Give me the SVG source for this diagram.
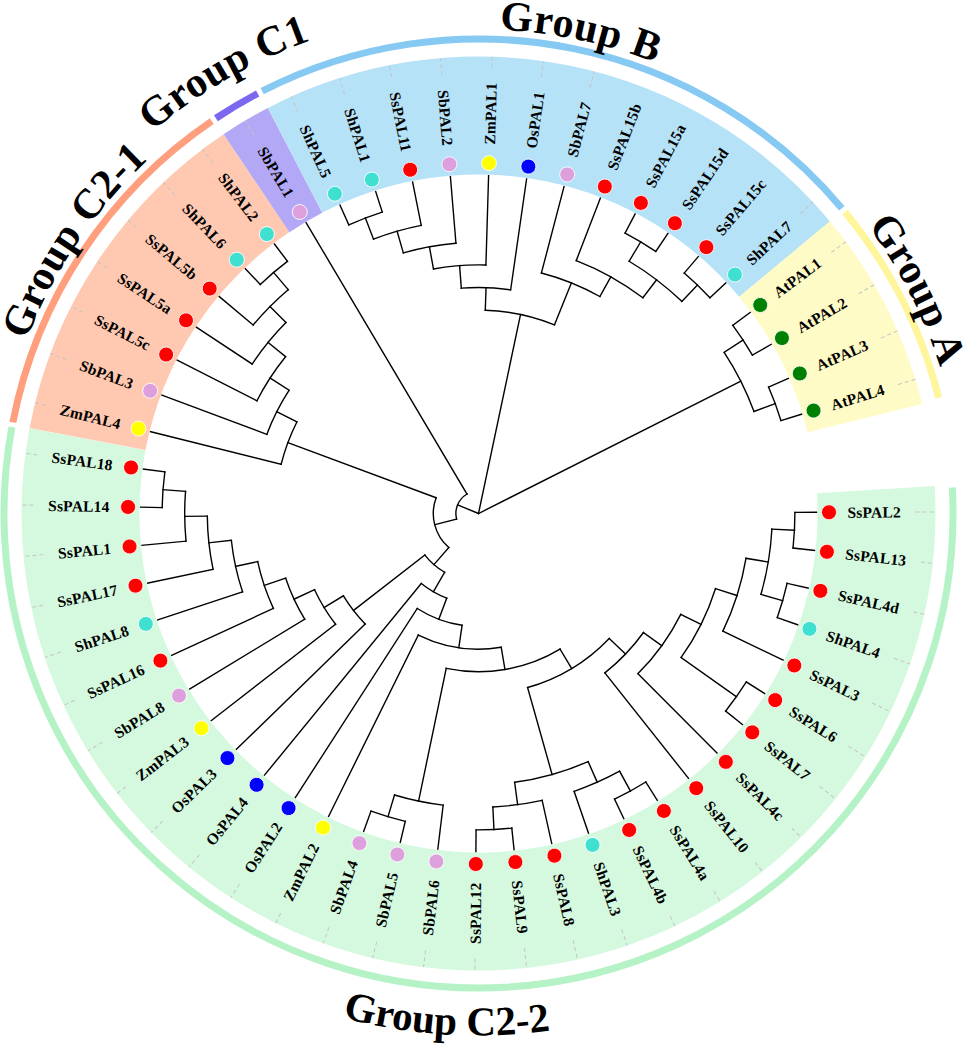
<svg xmlns="http://www.w3.org/2000/svg" width="969" height="1044" viewBox="0 0 969 1044">
<style>
.tree{stroke:#000;stroke-width:1.4;fill:none;stroke-linecap:square}
.lbl{font-family:"Liberation Serif","Times New Roman",serif;font-weight:bold;font-size:15.5px;letter-spacing:0.2px;fill:#000;dominant-baseline:central}
.ld{stroke:#c4c4c4;stroke-width:1;stroke-dasharray:4 3;fill:none}
.dot{stroke:#fff;stroke-width:0.8}
.grp{font-family:"Liberation Serif","Times New Roman",serif;font-weight:bold;font-size:42px;letter-spacing:0.5px;fill:#000}
.band{fill:none;stroke-width:118}
.oarc{fill:none;stroke-width:7}
.red{fill:#ff0000}.tq{fill:#40e0d0}.pl{fill:#dda0dd}.ye{fill:#ffff00}.bl{fill:#0000ff}.gr{fill:#008000}
</style>
<defs>
<path id="cw484" d="M -5.5 513.5 A 484 484 0 1 1 962.5 513.5 A 484 484 0 1 1 -5.5 513.5"/>
<path id="cw502" d="M -23.5 513.5 A 502 502 0 1 1 980.5 513.5 A 502 502 0 1 1 -23.5 513.5"/>
<path id="ccw522" d="M -43.5 513.5 A 522 522 0 0 0 1000.5 513.5"/>
</defs>
<rect width="969" height="1044" fill="#fff"/>
<g id="bands" transform="translate(478.5 513.5)">
<circle class="band" r="398" pathLength="360" stroke="#d5f9df" stroke-dasharray="194.22 400" transform="rotate(-3.44)"/>
<circle class="band" r="398" pathLength="360" stroke="#ffc8b0" stroke-dasharray="45.32 400" transform="rotate(190.78)"/>
<circle class="band" r="398" pathLength="360" stroke="#b2a8f6" stroke-dasharray="6.47 400" transform="rotate(236.10)"/>
<circle class="band" r="398" pathLength="360" stroke="#b6e2f8" stroke-dasharray="77.69 400" transform="rotate(242.57)"/>
<circle class="band" r="398" pathLength="360" stroke="#fffbc6" stroke-dasharray="25.90 400" transform="rotate(320.26)"/>
</g>
<g id="group-arcs" transform="translate(478.5 513.5)">
<circle class="oarc" r="474.5" pathLength="360" stroke="#b5f3c6" stroke-dasharray="193.62 400" transform="rotate(-3.14)"/>
<circle class="oarc" r="474.5" pathLength="360" stroke="#ff9f7e" stroke-dasharray="44.72 400" transform="rotate(191.08)"/>
<circle class="oarc" r="474.5" pathLength="360" stroke="#7b68ee" stroke-dasharray="5.87 400" transform="rotate(236.40)"/>
<circle class="oarc" r="474.5" pathLength="360" stroke="#86c9f2" stroke-dasharray="77.09 400" transform="rotate(242.87)"/>
<circle class="oarc" r="474.5" pathLength="360" stroke="#fff59b" stroke-dasharray="25.30 400" transform="rotate(320.56)"/>
</g>
<g id="connectors" class="tree" transform="translate(478.5 513.5)">
<line x1="316.4" x2="338" transform="rotate(-0.2)"/>
<line x1="316.4" x2="338" transform="rotate(6.27)"/>
<line x1="316.4" x2="338" transform="rotate(12.75)"/>
<line x1="316.4" x2="338" transform="rotate(19.22)"/>
<line x1="271.2" x2="338" transform="rotate(25.70)"/>
<line x1="316.4" x2="338" transform="rotate(32.17)"/>
<line x1="316.4" x2="338" transform="rotate(38.64)"/>
<line x1="226.0" x2="338" transform="rotate(45.12)"/>
<line x1="203.4" x2="338" transform="rotate(51.59)"/>
<line x1="316.4" x2="338" transform="rotate(58.07)"/>
<line x1="316.4" x2="338" transform="rotate(64.54)"/>
<line x1="293.8" x2="338" transform="rotate(71.01)"/>
<line x1="293.8" x2="338" transform="rotate(77.49)"/>
<line x1="316.4" x2="338" transform="rotate(83.96)"/>
<line x1="316.4" x2="338" transform="rotate(90.44)"/>
<line x1="293.8" x2="338" transform="rotate(96.91)"/>
<line x1="316.4" x2="338" transform="rotate(103.38)"/>
<line x1="316.4" x2="338" transform="rotate(109.86)"/>
<line x1="135.6" x2="338" transform="rotate(116.33)"/>
<line x1="113.0" x2="338" transform="rotate(122.81)"/>
<line x1="90.4" x2="338" transform="rotate(129.28)"/>
<line x1="158.2" x2="338" transform="rotate(135.75)"/>
<line x1="180.8" x2="338" transform="rotate(142.23)"/>
<line x1="203.4" x2="338" transform="rotate(148.70)"/>
<line x1="226.0" x2="338" transform="rotate(155.18)"/>
<line x1="248.6" x2="338" transform="rotate(161.65)"/>
<line x1="271.2" x2="338" transform="rotate(168.12)"/>
<line x1="293.8" x2="338" transform="rotate(174.60)"/>
<line x1="316.4" x2="338" transform="rotate(181.07)"/>
<line x1="316.4" x2="338" transform="rotate(187.55)"/>
<line x1="203.4" x2="338" transform="rotate(194.02)"/>
<line x1="226.0" x2="338" transform="rotate(200.49)"/>
<line x1="248.6" x2="338" transform="rotate(206.97)"/>
<line x1="271.2" x2="338" transform="rotate(213.44)"/>
<line x1="293.8" x2="338" transform="rotate(219.92)"/>
<line x1="316.4" x2="338" transform="rotate(226.39)"/>
<line x1="316.4" x2="338" transform="rotate(232.86)"/>
<line x1="22.6" x2="338" transform="rotate(239.34)"/>
<line x1="316.4" x2="338" transform="rotate(245.81)"/>
<line x1="316.4" x2="338" transform="rotate(252.29)"/>
<line x1="293.8" x2="338" transform="rotate(258.76)"/>
<line x1="271.2" x2="338" transform="rotate(265.23)"/>
<line x1="248.6" x2="338" transform="rotate(271.71)"/>
<line x1="226.0" x2="338" transform="rotate(278.18)"/>
<line x1="248.6" x2="338" transform="rotate(284.66)"/>
<line x1="271.2" x2="338" transform="rotate(291.13)"/>
<line x1="316.4" x2="338" transform="rotate(297.60)"/>
<line x1="316.4" x2="338" transform="rotate(304.08)"/>
<line x1="316.4" x2="338" transform="rotate(310.55)"/>
<line x1="316.4" x2="338" transform="rotate(317.02)"/>
<line x1="316.4" x2="338" transform="rotate(323.50)"/>
<line x1="316.4" x2="338" transform="rotate(329.97)"/>
<line x1="316.4" x2="338" transform="rotate(336.45)"/>
<line x1="316.4" x2="338" transform="rotate(342.92)"/>
<line x1="293.8" x2="316.4" transform="rotate(326.74)"/>
<line x1="293.8" x2="316.4" transform="rotate(339.69)"/>
<line x1="0" x2="293.8" transform="rotate(333.21)"/>
<line x1="293.8" x2="316.4" transform="rotate(249.05)"/>
<line x1="271.2" x2="293.8" transform="rotate(253.91)"/>
<line x1="248.6" x2="271.2" transform="rotate(259.57)"/>
<line x1="226.0" x2="248.6" transform="rotate(265.64)"/>
<line x1="203.4" x2="226.0" transform="rotate(271.91)"/>
<line x1="293.8" x2="316.4" transform="rotate(300.84)"/>
<line x1="293.8" x2="316.4" transform="rotate(313.79)"/>
<line x1="271.2" x2="293.8" transform="rotate(307.31)"/>
<line x1="248.6" x2="271.2" transform="rotate(299.22)"/>
<line x1="203.4" x2="248.6" transform="rotate(291.94)"/>
<line x1="0" x2="203.4" transform="rotate(281.92)"/>
<line x1="293.8" x2="316.4" transform="rotate(229.63)"/>
<line x1="271.2" x2="293.8" transform="rotate(224.77)"/>
<line x1="248.6" x2="271.2" transform="rotate(219.11)"/>
<line x1="226.0" x2="248.6" transform="rotate(213.04)"/>
<line x1="203.4" x2="226.0" transform="rotate(206.77)"/>
<line x1="45.2" x2="203.4" transform="rotate(200.39)"/>
<line x1="293.8" x2="316.4" transform="rotate(184.31)"/>
<line x1="271.2" x2="293.8" transform="rotate(179.45)"/>
<line x1="248.6" x2="271.2" transform="rotate(173.79)"/>
<line x1="226.0" x2="248.6" transform="rotate(167.72)"/>
<line x1="203.4" x2="226.0" transform="rotate(161.45)"/>
<line x1="180.8" x2="203.4" transform="rotate(155.08)"/>
<line x1="158.2" x2="180.8" transform="rotate(148.65)"/>
<line x1="67.8" x2="158.2" transform="rotate(142.20)"/>
<line x1="293.8" x2="316.4" transform="rotate(3.04)"/>
<line x1="293.8" x2="316.4" transform="rotate(15.98)"/>
<line x1="271.2" x2="293.8" transform="rotate(9.51)"/>
<line x1="248.6" x2="271.2" transform="rotate(17.60)"/>
<line x1="248.6" x2="316.4" transform="rotate(35.40)"/>
<line x1="226.0" x2="248.6" transform="rotate(26.50)"/>
<line x1="203.4" x2="226.0" transform="rotate(35.81)"/>
<line x1="180.8" x2="203.4" transform="rotate(43.70)"/>
<line x1="293.8" x2="316.4" transform="rotate(61.30)"/>
<line x1="271.2" x2="293.8" transform="rotate(66.16)"/>
<line x1="293.8" x2="316.4" transform="rotate(87.20)"/>
<line x1="271.2" x2="293.8" transform="rotate(82.34)"/>
<line x1="180.8" x2="271.2" transform="rotate(74.25)"/>
<line x1="158.2" x2="180.8" transform="rotate(58.98)"/>
<line x1="293.8" x2="316.4" transform="rotate(106.62)"/>
<line x1="158.2" x2="293.8" transform="rotate(101.77)"/>
<line x1="135.6" x2="158.2" transform="rotate(80.37)"/>
<line x1="113.0" x2="135.6" transform="rotate(98.35)"/>
<line x1="90.4" x2="113.0" transform="rotate(110.58)"/>
<line x1="67.8" x2="90.4" transform="rotate(119.93)"/>
<line x1="45.2" x2="67.8" transform="rotate(131.07)"/>
<line x1="22.6" x2="45.2" transform="rotate(165.73)"/>
<line x1="0" x2="22.6" transform="rotate(202.53)"/>
<circle r="316.4" pathLength="360" stroke-dasharray="6.47 400" transform="rotate(323.50)"/>
<circle r="316.4" pathLength="360" stroke-dasharray="6.47 400" transform="rotate(336.45)"/>
<circle r="293.8" pathLength="360" stroke-dasharray="12.95 400" transform="rotate(326.74)"/>
<circle r="316.4" pathLength="360" stroke-dasharray="6.48 400" transform="rotate(245.81)"/>
<circle r="293.8" pathLength="360" stroke-dasharray="9.71 400" transform="rotate(249.05)"/>
<circle r="271.2" pathLength="360" stroke-dasharray="11.32 400" transform="rotate(253.91)"/>
<circle r="248.6" pathLength="360" stroke-dasharray="12.14 400" transform="rotate(259.57)"/>
<circle r="226.0" pathLength="360" stroke-dasharray="12.54 400" transform="rotate(265.64)"/>
<circle r="316.4" pathLength="360" stroke-dasharray="6.48 400" transform="rotate(297.60)"/>
<circle r="316.4" pathLength="360" stroke-dasharray="6.47 400" transform="rotate(310.55)"/>
<circle r="293.8" pathLength="360" stroke-dasharray="12.95 400" transform="rotate(300.84)"/>
<circle r="271.2" pathLength="360" stroke-dasharray="16.18 400" transform="rotate(291.13)"/>
<circle r="248.6" pathLength="360" stroke-dasharray="14.56 400" transform="rotate(284.66)"/>
<circle r="203.4" pathLength="360" stroke-dasharray="20.03 400" transform="rotate(271.91)"/>
<circle r="316.4" pathLength="360" stroke-dasharray="6.47 400" transform="rotate(226.39)"/>
<circle r="293.8" pathLength="360" stroke-dasharray="9.71 400" transform="rotate(219.92)"/>
<circle r="271.2" pathLength="360" stroke-dasharray="11.33 400" transform="rotate(213.44)"/>
<circle r="248.6" pathLength="360" stroke-dasharray="12.14 400" transform="rotate(206.97)"/>
<circle r="226.0" pathLength="360" stroke-dasharray="12.55 400" transform="rotate(200.49)"/>
<circle r="203.4" pathLength="360" stroke-dasharray="12.75 400" transform="rotate(194.02)"/>
<circle r="316.4" pathLength="360" stroke-dasharray="6.48 400" transform="rotate(181.07)"/>
<circle r="293.8" pathLength="360" stroke-dasharray="9.71 400" transform="rotate(174.60)"/>
<circle r="271.2" pathLength="360" stroke-dasharray="11.33 400" transform="rotate(168.12)"/>
<circle r="248.6" pathLength="360" stroke-dasharray="12.14 400" transform="rotate(161.65)"/>
<circle r="226.0" pathLength="360" stroke-dasharray="12.54 400" transform="rotate(155.18)"/>
<circle r="203.4" pathLength="360" stroke-dasharray="12.75 400" transform="rotate(148.70)"/>
<circle r="180.8" pathLength="360" stroke-dasharray="12.85 400" transform="rotate(142.23)"/>
<circle r="158.2" pathLength="360" stroke-dasharray="12.90 400" transform="rotate(135.75)"/>
<circle r="316.4" pathLength="360" stroke-dasharray="6.47 400" transform="rotate(-0.20)"/>
<circle r="316.4" pathLength="360" stroke-dasharray="6.47 400" transform="rotate(12.75)"/>
<circle r="293.8" pathLength="360" stroke-dasharray="12.94 400" transform="rotate(3.04)"/>
<circle r="271.2" pathLength="360" stroke-dasharray="16.19 400" transform="rotate(9.51)"/>
<circle r="316.4" pathLength="360" stroke-dasharray="6.47 400" transform="rotate(32.17)"/>
<circle r="248.6" pathLength="360" stroke-dasharray="17.80 400" transform="rotate(17.60)"/>
<circle r="226.0" pathLength="360" stroke-dasharray="18.62 400" transform="rotate(26.50)"/>
<circle r="203.4" pathLength="360" stroke-dasharray="15.78 400" transform="rotate(35.81)"/>
<circle r="316.4" pathLength="360" stroke-dasharray="6.47 400" transform="rotate(58.07)"/>
<circle r="293.8" pathLength="360" stroke-dasharray="9.71 400" transform="rotate(61.30)"/>
<circle r="316.4" pathLength="360" stroke-dasharray="6.48 400" transform="rotate(83.96)"/>
<circle r="293.8" pathLength="360" stroke-dasharray="9.71 400" transform="rotate(77.49)"/>
<circle r="271.2" pathLength="360" stroke-dasharray="16.18 400" transform="rotate(66.16)"/>
<circle r="180.8" pathLength="360" stroke-dasharray="30.55 400" transform="rotate(43.70)"/>
<circle r="316.4" pathLength="360" stroke-dasharray="6.48 400" transform="rotate(103.38)"/>
<circle r="293.8" pathLength="360" stroke-dasharray="9.71 400" transform="rotate(96.91)"/>
<circle r="158.2" pathLength="360" stroke-dasharray="42.79 400" transform="rotate(58.98)"/>
<circle r="135.6" pathLength="360" stroke-dasharray="35.96 400" transform="rotate(80.37)"/>
<circle r="113.0" pathLength="360" stroke-dasharray="24.46 400" transform="rotate(98.35)"/>
<circle r="90.4" pathLength="360" stroke-dasharray="18.70 400" transform="rotate(110.58)"/>
<circle r="67.8" pathLength="360" stroke-dasharray="22.27 400" transform="rotate(119.93)"/>
<circle r="45.2" pathLength="360" stroke-dasharray="69.32 400" transform="rotate(131.07)"/>
<circle r="22.6" pathLength="360" stroke-dasharray="73.61 400" transform="rotate(165.73)"/>
</g>
<g id="leaf-SsPAL2" transform="translate(478.5 513.5) rotate(-0.2)"><circle class="dot red" cx="350.5" r="7.5"/><text class="lbl" x="369">SsPAL2</text><line class="ld" x1="437" x2="457"/></g>
<g id="leaf-SsPAL13" transform="translate(478.5 513.5) rotate(6.27)"><circle class="dot red" cx="350.5" r="7.5"/><text class="lbl" x="369">SsPAL13</text><line class="ld" x1="445" x2="457"/></g>
<g id="leaf-SsPAL4d" transform="translate(478.5 513.5) rotate(12.75)"><circle class="dot red" cx="350.5" r="7.5"/><text class="lbl" x="369">SsPAL4d</text><line class="ld" x1="446" x2="457"/></g>
<g id="leaf-ShPAL4" transform="translate(478.5 513.5) rotate(19.22)"><circle class="dot tq" cx="350.5" r="7.5"/><text class="lbl" x="369">ShPAL4</text><line class="ld" x1="440" x2="457"/></g>
<g id="leaf-SsPAL3" transform="translate(478.5 513.5) rotate(25.70)"><circle class="dot red" cx="350.5" r="7.5"/><text class="lbl" x="369">SsPAL3</text><line class="ld" x1="437" x2="457"/></g>
<g id="leaf-SsPAL6" transform="translate(478.5 513.5) rotate(32.17)"><circle class="dot red" cx="350.5" r="7.5"/><text class="lbl" x="369">SsPAL6</text><line class="ld" x1="437" x2="457"/></g>
<g id="leaf-SsPAL7" transform="translate(478.5 513.5) rotate(38.64)"><circle class="dot red" cx="350.5" r="7.5"/><text class="lbl" x="369">SsPAL7</text><line class="ld" x1="437" x2="457"/></g>
<g id="leaf-SsPAL4c" transform="translate(478.5 513.5) rotate(45.12)"><circle class="dot red" cx="350.5" r="7.5"/><text class="lbl" x="369">SsPAL4c</text><line class="ld" x1="444" x2="457"/></g>
<g id="leaf-SsPAL10" transform="translate(478.5 513.5) rotate(51.59)"><circle class="dot red" cx="350.5" r="7.5"/><text class="lbl" x="369">SsPAL10</text><line class="ld" x1="445" x2="457"/></g>
<g id="leaf-SsPAL4a" transform="translate(478.5 513.5) rotate(58.07)"><circle class="dot red" cx="350.5" r="7.5"/><text class="lbl" x="369">SsPAL4a</text><line class="ld" x1="445" x2="457"/></g>
<g id="leaf-SsPAL4b" transform="translate(478.5 513.5) rotate(64.54)"><circle class="dot red" cx="350.5" r="7.5"/><text class="lbl" x="369">SsPAL4b</text><line class="ld" x1="446" x2="457"/></g>
<g id="leaf-ShPAL3" transform="translate(478.5 513.5) rotate(71.01)"><circle class="dot tq" cx="350.5" r="7.5"/><text class="lbl" x="369">ShPAL3</text><line class="ld" x1="440" x2="457"/></g>
<g id="leaf-SsPAL8" transform="translate(478.5 513.5) rotate(77.49)"><circle class="dot red" cx="350.5" r="7.5"/><text class="lbl" x="369">SsPAL8</text><line class="ld" x1="437" x2="457"/></g>
<g id="leaf-SsPAL9" transform="translate(478.5 513.5) rotate(83.96)"><circle class="dot red" cx="350.5" r="7.5"/><text class="lbl" x="369">SsPAL9</text><line class="ld" x1="437" x2="457"/></g>
<g id="leaf-SsPAL12" transform="translate(478.5 513.5) rotate(90.44)"><circle class="dot red" cx="350.5" r="7.5"/><text class="lbl" x="-369" text-anchor="end" transform="rotate(180)">SsPAL12</text><line class="ld" x1="445" x2="457"/></g>
<g id="leaf-SbPAL6" transform="translate(478.5 513.5) rotate(96.91)"><circle class="dot pl" cx="350.5" r="7.5"/><text class="lbl" x="-369" text-anchor="end" transform="rotate(180)">SbPAL6</text><line class="ld" x1="440" x2="457"/></g>
<g id="leaf-SbPAL5" transform="translate(478.5 513.5) rotate(103.38)"><circle class="dot pl" cx="350.5" r="7.5"/><text class="lbl" x="-369" text-anchor="end" transform="rotate(180)">SbPAL5</text><line class="ld" x1="440" x2="457"/></g>
<g id="leaf-SbPAL4" transform="translate(478.5 513.5) rotate(109.86)"><circle class="dot pl" cx="350.5" r="7.5"/><text class="lbl" x="-369" text-anchor="end" transform="rotate(180)">SbPAL4</text><line class="ld" x1="440" x2="457"/></g>
<g id="leaf-ZmPAL2" transform="translate(478.5 513.5) rotate(116.33)"><circle class="dot ye" cx="350.5" r="7.5"/><text class="lbl" x="-369" text-anchor="end" transform="rotate(180)">ZmPAL2</text><line class="ld" x1="446" x2="457"/></g>
<g id="leaf-OsPAL2" transform="translate(478.5 513.5) rotate(122.81)"><circle class="dot bl" cx="350.5" r="7.5"/><text class="lbl" x="-369" text-anchor="end" transform="rotate(180)">OsPAL2</text><line class="ld" x1="441" x2="457"/></g>
<g id="leaf-OsPAL4" transform="translate(478.5 513.5) rotate(129.28)"><circle class="dot bl" cx="350.5" r="7.5"/><text class="lbl" x="-369" text-anchor="end" transform="rotate(180)">OsPAL4</text><line class="ld" x1="441" x2="457"/></g>
<g id="leaf-OsPAL3" transform="translate(478.5 513.5) rotate(135.75)"><circle class="dot bl" cx="350.5" r="7.5"/><text class="lbl" x="-369" text-anchor="end" transform="rotate(180)">OsPAL3</text><line class="ld" x1="441" x2="457"/></g>
<g id="leaf-ZmPAL3" transform="translate(478.5 513.5) rotate(142.23)"><circle class="dot ye" cx="350.5" r="7.5"/><text class="lbl" x="-369" text-anchor="end" transform="rotate(180)">ZmPAL3</text><line class="ld" x1="446" x2="457"/></g>
<g id="leaf-SbPAL8" transform="translate(478.5 513.5) rotate(148.70)"><circle class="dot pl" cx="350.5" r="7.5"/><text class="lbl" x="-369" text-anchor="end" transform="rotate(180)">SbPAL8</text><line class="ld" x1="440" x2="457"/></g>
<g id="leaf-SsPAL16" transform="translate(478.5 513.5) rotate(155.18)"><circle class="dot red" cx="350.5" r="7.5"/><text class="lbl" x="-369" text-anchor="end" transform="rotate(180)">SsPAL16</text><line class="ld" x1="445" x2="457"/></g>
<g id="leaf-ShPAL8" transform="translate(478.5 513.5) rotate(161.65)"><circle class="dot tq" cx="350.5" r="7.5"/><text class="lbl" x="-369" text-anchor="end" transform="rotate(180)">ShPAL8</text><line class="ld" x1="440" x2="457"/></g>
<g id="leaf-SsPAL17" transform="translate(478.5 513.5) rotate(168.12)"><circle class="dot red" cx="350.5" r="7.5"/><text class="lbl" x="-369" text-anchor="end" transform="rotate(180)">SsPAL17</text><line class="ld" x1="445" x2="457"/></g>
<g id="leaf-SsPAL1" transform="translate(478.5 513.5) rotate(174.60)"><circle class="dot red" cx="350.5" r="7.5"/><text class="lbl" x="-369" text-anchor="end" transform="rotate(180)">SsPAL1</text><line class="ld" x1="437" x2="457"/></g>
<g id="leaf-SsPAL14" transform="translate(478.5 513.5) rotate(181.07)"><circle class="dot red" cx="350.5" r="7.5"/><text class="lbl" x="-369" text-anchor="end" transform="rotate(180)">SsPAL14</text><line class="ld" x1="445" x2="457"/></g>
<g id="leaf-SsPAL18" transform="translate(478.5 513.5) rotate(187.55)"><circle class="dot red" cx="350.5" r="7.5"/><text class="lbl" x="-369" text-anchor="end" transform="rotate(180)">SsPAL18</text><line class="ld" x1="445" x2="457"/></g>
<g id="leaf-ZmPAL4" transform="translate(478.5 513.5) rotate(194.02)"><circle class="dot ye" cx="350.5" r="7.5"/><text class="lbl" x="-369" text-anchor="end" transform="rotate(180)">ZmPAL4</text><line class="ld" x1="446" x2="457"/></g>
<g id="leaf-SbPAL3" transform="translate(478.5 513.5) rotate(200.49)"><circle class="dot pl" cx="350.5" r="7.5"/><text class="lbl" x="-369" text-anchor="end" transform="rotate(180)">SbPAL3</text><line class="ld" x1="440" x2="457"/></g>
<g id="leaf-SsPAL5c" transform="translate(478.5 513.5) rotate(206.97)"><circle class="dot red" cx="350.5" r="7.5"/><text class="lbl" x="-369" text-anchor="end" transform="rotate(180)">SsPAL5c</text><line class="ld" x1="444" x2="457"/></g>
<g id="leaf-SsPAL5a" transform="translate(478.5 513.5) rotate(213.44)"><circle class="dot red" cx="350.5" r="7.5"/><text class="lbl" x="-369" text-anchor="end" transform="rotate(180)">SsPAL5a</text><line class="ld" x1="445" x2="457"/></g>
<g id="leaf-SsPAL5b" transform="translate(478.5 513.5) rotate(219.92)"><circle class="dot red" cx="350.5" r="7.5"/><text class="lbl" x="-369" text-anchor="end" transform="rotate(180)">SsPAL5b</text><line class="ld" x1="446" x2="457"/></g>
<g id="leaf-ShPAL6" transform="translate(478.5 513.5) rotate(226.39)"><circle class="dot tq" cx="350.5" r="7.5"/><text class="lbl" x="-369" text-anchor="end" transform="rotate(180)">ShPAL6</text><line class="ld" x1="440" x2="457"/></g>
<g id="leaf-ShPAL2" transform="translate(478.5 513.5) rotate(232.86)"><circle class="dot tq" cx="350.5" r="7.5"/><text class="lbl" x="-369" text-anchor="end" transform="rotate(180)">ShPAL2</text><line class="ld" x1="440" x2="457"/></g>
<g id="leaf-SbPAL1" transform="translate(478.5 513.5) rotate(239.34)"><circle class="dot pl" cx="350.5" r="7.5"/><text class="lbl" x="-369" text-anchor="end" transform="rotate(180)">SbPAL1</text><line class="ld" x1="440" x2="457"/></g>
<g id="leaf-ShPAL5" transform="translate(478.5 513.5) rotate(245.81)"><circle class="dot tq" cx="350.5" r="7.5"/><text class="lbl" x="-369" text-anchor="end" transform="rotate(180)">ShPAL5</text><line class="ld" x1="440" x2="457"/></g>
<g id="leaf-ShPAL1" transform="translate(478.5 513.5) rotate(252.29)"><circle class="dot tq" cx="350.5" r="7.5"/><text class="lbl" x="-369" text-anchor="end" transform="rotate(180)">ShPAL1</text><line class="ld" x1="440" x2="457"/></g>
<g id="leaf-SsPAL11" transform="translate(478.5 513.5) rotate(258.76)"><circle class="dot red" cx="350.5" r="7.5"/><text class="lbl" x="-369" text-anchor="end" transform="rotate(180)">SsPAL11</text><line class="ld" x1="445" x2="457"/></g>
<g id="leaf-SbPAL2" transform="translate(478.5 513.5) rotate(265.23)"><circle class="dot pl" cx="350.5" r="7.5"/><text class="lbl" x="-369" text-anchor="end" transform="rotate(180)">SbPAL2</text><line class="ld" x1="440" x2="457"/></g>
<g id="leaf-ZmPAL1" transform="translate(478.5 513.5) rotate(271.71)"><circle class="dot ye" cx="350.5" r="7.5"/><text class="lbl" x="369">ZmPAL1</text><line class="ld" x1="446" x2="457"/></g>
<g id="leaf-OsPAL1" transform="translate(478.5 513.5) rotate(278.18)"><circle class="dot bl" cx="350.5" r="7.5"/><text class="lbl" x="369">OsPAL1</text><line class="ld" x1="441" x2="457"/></g>
<g id="leaf-SbPAL7" transform="translate(478.5 513.5) rotate(284.66)"><circle class="dot pl" cx="350.5" r="7.5"/><text class="lbl" x="369">SbPAL7</text><line class="ld" x1="440" x2="457"/></g>
<g id="leaf-SsPAL15b" transform="translate(478.5 513.5) rotate(291.13)"><circle class="dot red" cx="350.5" r="7.5"/><text class="lbl" x="369">SsPAL15b</text></g>
<g id="leaf-SsPAL15a" transform="translate(478.5 513.5) rotate(297.60)"><circle class="dot red" cx="350.5" r="7.5"/><text class="lbl" x="369">SsPAL15a</text></g>
<g id="leaf-SsPAL15d" transform="translate(478.5 513.5) rotate(304.08)"><circle class="dot red" cx="350.5" r="7.5"/><text class="lbl" x="369">SsPAL15d</text></g>
<g id="leaf-SsPAL15c" transform="translate(478.5 513.5) rotate(310.55)"><circle class="dot red" cx="350.5" r="7.5"/><text class="lbl" x="369">SsPAL15c</text></g>
<g id="leaf-ShPAL7" transform="translate(478.5 513.5) rotate(317.02)"><circle class="dot tq" cx="350.5" r="7.5"/><text class="lbl" x="369">ShPAL7</text><line class="ld" x1="440" x2="457"/></g>
<g id="leaf-AtPAL1" transform="translate(478.5 513.5) rotate(323.50)"><circle class="dot gr" cx="350.5" r="7.5"/><text class="lbl" x="369">AtPAL1</text><line class="ld" x1="439" x2="457"/></g>
<g id="leaf-AtPAL2" transform="translate(478.5 513.5) rotate(329.97)"><circle class="dot gr" cx="350.5" r="7.5"/><text class="lbl" x="369">AtPAL2</text><line class="ld" x1="439" x2="457"/></g>
<g id="leaf-AtPAL3" transform="translate(478.5 513.5) rotate(336.45)"><circle class="dot gr" cx="350.5" r="7.5"/><text class="lbl" x="369">AtPAL3</text><line class="ld" x1="439" x2="457"/></g>
<g id="leaf-AtPAL4" transform="translate(478.5 513.5) rotate(342.92)"><circle class="dot gr" cx="350.5" r="7.5"/><text class="lbl" x="369">AtPAL4</text><line class="ld" x1="439" x2="457"/></g>
<g id="label-groupA"><text class="grp" text-anchor="middle"><textPath href="#cw484" startOffset="1292.5">Group A</textPath></text></g>
<g id="label-groupB"><text class="grp" text-anchor="middle"><textPath href="#cw484" startOffset="861.6">Group B</textPath></text></g>
<g id="label-groupC1"><text class="grp" text-anchor="middle"><textPath href="#cw502" startOffset="525.7">Group C1</textPath></text></g>
<g id="label-groupC2-1"><text class="grp" text-anchor="middle"><textPath href="#cw484" startOffset="287.2">Group C2-1</textPath></text></g>
<g id="label-groupC2-2"><text class="grp" text-anchor="middle" style="font-size:41px;letter-spacing:0"><textPath href="#ccw522" startOffset="787.2">Group C2-2</textPath></text></g>
</svg>
